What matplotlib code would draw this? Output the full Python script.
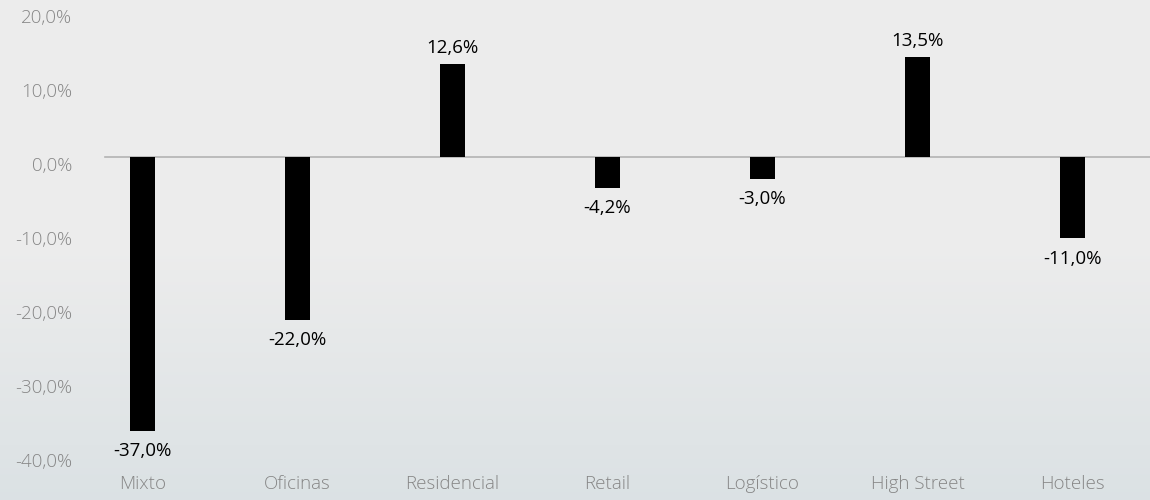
import numpy as np
import matplotlib
matplotlib.use("Agg")
import matplotlib.pyplot as plt

categorias = ["Mixto", "Oficinas", "Residencial", "Retail", "Logístico", "High Street", "Hoteles"]
valores = [-37.0, -22.0, 12.6, -4.2, -3.0, 13.5, -11.0]
ticks_y = [20, 10, 0, -10, -20, -30, -40]

plt.rcParams["font.family"] = ["Open Sans", "DejaVu Sans"]

fig = plt.figure(figsize=(11.5, 5), dpi=100)

# fondo con degradado
bg = fig.add_axes([0, 0, 1, 1], zorder=-10)
grad = np.linspace(0, 1, 256)
top = np.array([0.927, 0.927, 0.927])
bot = np.array([0.86, 0.885, 0.895])
w = np.clip((grad - 0.5) / 0.5, 0, 1)[:, None]
img = top * (1 - w) + bot * w
bg.imshow(img[:, None, :], aspect="auto", extent=[0, 1, 0, 1], origin="upper")
bg.axis("off")

ax = fig.add_axes([65 / 1150, (500 - 453) / 500, 1 - 65 / 1150, (453 - 9) / 500])
ax.patch.set_alpha(0)
x = np.arange(len(categorias))
ax.bar(x, valores, width=0.16, color="black", zorder=3)
ax.set_xlim(-0.5, 6.5)
ax.set_ylim(-40, 20)
ax.axhline(0, xmin=40 / 1085, xmax=1, color="#b3b3b3", lw=1.2, zorder=2)

for s in ax.spines.values():
    s.set_visible(False)
ax.set_xticks([])
ax.set_yticks([])

gris = "#868686"
for t in ticks_y:
    ax.text(7 / 1085, t, f"{t:.1f}%".replace(".", ","), transform=ax.get_yaxis_transform(),
            ha="right", va="top", fontsize=13.5, color=gris, fontweight="light")
for i, c in enumerate(categorias):
    ax.annotate(c, (i, -40), xytext=(0, -16), textcoords="offset points",
                ha="center", va="top", fontsize=13.5, color=gris, fontweight="light",
                annotation_clip=False)

for i, v in enumerate(valores):
    lab = f"{v:.1f}%".replace(".", ",")
    if v >= 0:
        ax.annotate(lab, (i, v), xytext=(0, 5), textcoords="offset points",
                    ha="center", va="bottom", fontsize=13.5, color="black")
    else:
        ax.annotate(lab, (i, v), xytext=(0, -8), textcoords="offset points",
                    ha="center", va="top", fontsize=13.5, color="black")

fig.savefig("out.png", dpi=100)
